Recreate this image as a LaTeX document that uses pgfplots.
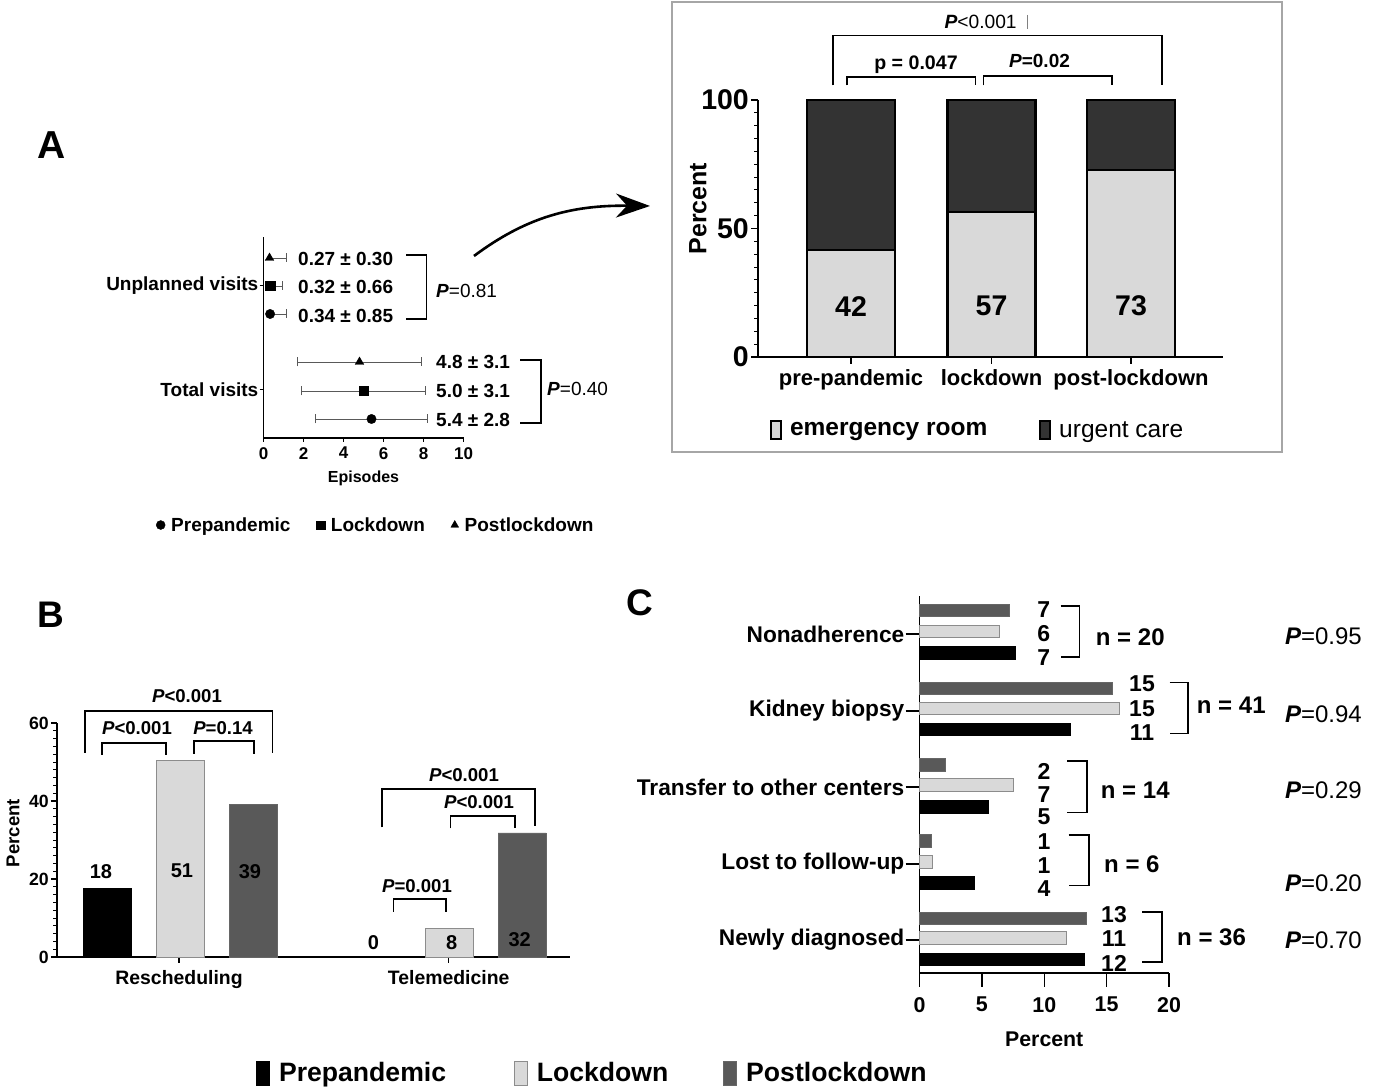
\documentclass[border=0pt]{standalone}
\usepackage{fontspec}
\setmainfont{Liberation Sans}
\usepackage{pgfplots}
\pgfplotsset{compat=1.18}
\usetikzlibrary{arrows.meta}
\definecolor{lgray}{HTML}{D9D9D9}
\definecolor{dgray}{HTML}{595959}
\definecolor{vdgray}{HTML}{333333}
\newcommand\fsz[1]{\fontsize{#1}{#1}\selectfont}
\pgfplotsset{every axis/.append style={/pgf/number format/assume math mode=true},
  ebar/.style={error bars/.cd, x dir=#1, x explicit,
    error bar style={line width=0.9pt, black!65},
    error mark=|,
    error mark options={line width=0.9pt, black!65, mark size=4.5}}}
\tikzset{flip/.style={y=-1pt, x=1pt, yshift=1091pt}}
\begin{document}
\begin{tikzpicture}[x=1pt,y=1pt]
\path[use as bounding box] (0,0) rectangle (1374,1091);

%================ Panel A forest ================
\begin{axis}[
  at={(263.5pt,653pt)}, anchor=south west,
  scale only axis, width=200pt, height=201pt,
  xmin=0, xmax=10, ymin=-438, ymax=-237,
  axis lines*=left,
  axis line style={line width=1.2pt},
  xtick={0,2,...,10},
  ytick={-286,-390}, yticklabels={Unplanned visits, Total visits},
  tick align=outside, major tick length=4pt,
  tick style={line width=1pt, black},
  xticklabel style={font=\bfseries\fsz{17}, inner sep=2pt, yshift=-3pt},
  yticklabel style={font=\bfseries\fsz{19}, inner sep=1pt},
  xlabel={Episodes}, xlabel style={font=\bfseries\fsz{16}, inner sep=0pt, yshift=-9pt},
  clip=false,
  legend columns=3,
  legend cell align=left,
  legend image code/.code={\draw[#1] plot coordinates {(5pt,0pt)};},
  legend style={at={(-0.5375,-0.433)}, anchor=west, draw=none, fill=none,
    font=\bfseries\fsz{19}, inner sep=0pt,
    /tikz/every even column/.append style={column sep=25pt},
    /tikz/every odd column/.append style={column sep=5pt},
    nodes={inner sep=1pt}},
]
\addlegendimage{only marks, mark=*, black, mark size=4.5}
\addlegendentry{Prepandemic}
\addlegendimage{only marks, mark=square*, black, mark size=4.2}
\addlegendentry{Lockdown}
\addlegendimage{only marks, mark=triangle*, black, mark size=4.5}
\addlegendentry{Postlockdown}
\addplot[only marks, mark=triangle*, black, mark size=5, ebar=plus]
  coordinates {(0.30,-258) +- (0.85,0)};
\addplot[only marks, mark=square*, black, mark size=4.7, ebar=plus]
  coordinates {(0.33,-286) +- (0.62,0)};
\addplot[only marks, mark=*, black, mark size=4.7, ebar=plus]
  coordinates {(0.33,-314) +- (0.82,0)};
\addplot[only marks, mark=triangle*, black, mark size=5, ebar=both]
  coordinates {(4.8,-362) +- (3.1,0)};
\addplot[only marks, mark=square*, black, mark size=4.7, ebar=both]
  coordinates {(5.0,-391) +- (3.1,0)};
\addplot[only marks, mark=*, black, mark size=4.7, ebar=both]
  coordinates {(5.4,-419) +- (2.8,0)};
\end{axis}

%================ Stacked panel ================
\begin{axis}[
  at={(758pt,734pt)}, anchor=south west,
  scale only axis, width=465pt, height=257pt,
  xmin=758, xmax=1223, ymin=0, ymax=100,
  axis lines*=left,
  axis line style={line width=2pt},
  ytick={0,50,100}, minor y tick num=9,
  xtick={851,991.5,1131}, xticklabels={pre-pandemic, lockdown, post-lockdown},
  tick align=outside, major tick length=7pt, minor tick length=4pt,
  tick style={line width=1.5pt, black},
  minor tick style={line width=1pt},
  yticklabel style={font=\bfseries\fsz{28.5}, inner sep=2pt},
  xticklabel style={font=\bfseries\fsz{22}, inner sep=2pt, yshift=-3pt},
  ylabel={Percent}, ylabel style={font=\bfseries\fsz{25}, at={(axis description cs:-0.129,0.577)}, anchor=center},
  clip=false,
  legend columns=2,
  legend cell align=left,
  legend style={at={(0.0258,-0.284)}, anchor=west, draw=none, fill=none,
    font=\fsz{24.5}, inner sep=0pt,
    /tikz/every odd column/.append style={column sep=6pt},
    /tikz/every even column/.append style={column sep=50pt},
    nodes={inner sep=2pt}},
]
\addlegendimage{legend image code/.code={\draw[fill=lgray, draw=black, line width=1.8pt] (0pt,-9pt) rectangle (10pt,9pt);}}
\addlegendentry{\bfseries emergency room}
\addlegendimage{legend image code/.code={\draw[fill=vdgray, draw=black, line width=1.8pt] (0pt,-9pt) rectangle (10pt,9pt);}}
\addlegendentry{urgent care}
\addplot[ybar stacked, bar width=88, fill=lgray, draw=black, line width=2.2pt] coordinates {(851,41.6) (991.5,56.5) (1131,72.9)};
\addplot[ybar stacked, bar width=88, fill=vdgray, draw=black, line width=2.2pt] coordinates {(851,58.4) (991.5,43.5) (1131,27.1)};
\node[font=\bfseries\fsz{28.5}] at (axis cs:851,19.8) {42};
\node[font=\bfseries\fsz{28.5}] at (axis cs:991.5,19.8) {57};
\node[font=\bfseries\fsz{28.5}] at (axis cs:1131,19.8) {73};
\end{axis}

%================ Panel B ================
\begin{axis}[
  at={(57pt,134pt)}, anchor=south west,
  scale only axis, width=513pt, height=234pt,
  xmin=57, xmax=570, ymin=0, ymax=60,
  axis lines*=left,
  axis line style={line width=1.6pt},
  ytick={0,20,40,60}, minor y tick num=9,
  xtick={179,448.7}, xticklabels={Rescheduling, Telemedicine},
  tick align=outside, major tick length=6pt, minor tick length=3.5pt,
  tick style={line width=1.2pt, black},
  minor tick style={line width=0.8pt},
  yticklabel style={font=\bfseries\fsz{17.7}, inner sep=2pt},
  xticklabel style={font=\bfseries\fsz{19.4}, inner sep=2pt, yshift=-5pt},
  ylabel={Percent}, ylabel style={font=\bfseries\fsz{18.6}, at={(axis description cs:-0.0858,0.53)}, anchor=center},
  clip=false,
  legend columns=3,
  legend cell align=left,
  legend style={at={(0.388,-0.496)}, anchor=west, draw=none, fill=none,
    font=\bfseries\fsz{26.6}, inner sep=0pt,
    /tikz/every odd column/.append style={column sep=7pt},
    /tikz/column 2/.style={column sep=66pt},
    /tikz/column 4/.style={column sep=53pt},
    nodes={inner sep=2pt}},
]
\addlegendimage{legend image code/.code={\draw[fill=black, draw=black, line width=0.8pt] (0pt,-12pt) rectangle (13pt,12pt);}}
\addlegendentry{Prepandemic}
\addlegendimage{legend image code/.code={\draw[fill=lgray, draw=black!45, line width=0.8pt] (0pt,-12pt) rectangle (13pt,12pt);}}
\addlegendentry{Lockdown}
\addlegendimage{legend image code/.code={\draw[fill=dgray, draw=black!60, line width=0.8pt] (0pt,-12pt) rectangle (13pt,12pt);}}
\addlegendentry{Postlockdown}
\addplot[ybar, bar shift=0pt, bar width=48, fill=black, draw=black, line width=0.8pt] coordinates {(107,17.6)};
\addplot[ybar, bar shift=0pt, bar width=48, fill=lgray, draw=black!45, line width=0.8pt] coordinates {(180,50.4) (449,7.4)};
\addplot[ybar, bar shift=0pt, bar width=48, fill=dgray, draw=black!60, line width=0.8pt] coordinates {(253,39.1) (522,31.8)};
\begin{scope}[every node/.style={font=\bfseries\fsz{20}, inner sep=0pt}]
\node at (axis cs:101,22) {18};
\node at (axis cs:182,22) {51};
\node at (axis cs:250,22) {39};
\node at (axis cs:373.5,3.6) {0};
\node at (axis cs:451.6,3.6) {8};
\node at (axis cs:519.7,4.5) {32};
\end{scope}
\end{axis}

%================ Panel C ================
\begin{axis}[
  at={(919.5pt,118pt)}, anchor=south west,
  scale only axis, width=249.5pt, height=377pt,
  xmin=0, xmax=20, ymin=-973, ymax=-596,
  axis lines*=left,
  axis line style={line width=1.6pt},
  xtick={0,5,...,20},
  ytick={-634,-711,-787,-864,-940},
  yticklabels={Nonadherence, Kidney biopsy, Transfer to other centers, Lost to follow-up, Newly diagnosed},
  tick align=outside, major tick length=14pt,
  tick style={line width=1.4pt, black},
  xticklabel style={font=\bfseries\fsz{21.4}, inner sep=2pt, yshift=-8pt},
  yticklabel style={font=\bfseries\fsz{22.7}, inner sep=1pt},
  xlabel={Percent}, xlabel style={font=\bfseries\fsz{21.3}, inner sep=0pt, yshift=-17pt},
  clip=false,
]
\addplot[xbar, bar shift=0pt, bar width=12.5, fill=dgray, draw=black!60, line width=0.8pt]
  coordinates {(7.2,-610.5) (15.5,-688.4) (2.1,-765) (0.95,-841) (13.4,-918.6)};
\addplot[xbar, bar shift=0pt, bar width=12.5, fill=lgray, draw=black!45, line width=0.8pt]
  coordinates {(6.4,-631.6) (16.0,-708.5) (7.5,-785) (1.07,-862) (11.8,-937.7)};
\addplot[xbar, bar shift=0pt, bar width=12.5, fill=black, draw=black, line width=0.8pt]
  coordinates {(7.7,-652.8) (12.1,-729.6) (5.5,-807) (4.4,-883) (13.2,-959.5)};
\end{axis}

%================ Annotations (pixel coordinates, y downward) ================
\begin{scope}[flip]
\node[font=\bfseries\fsz{39}] at (52,145) {A};
\node[font=\bfseries\fsz{37}] at (51,615) {B};
\node[font=\bfseries\fsz{37}] at (640,603) {C};
\begin{scope}[every node/.style={font=\bfseries\fsz{19}, inner sep=0pt, anchor=west}]
\node at (298,259) {0.27 ± 0.30};
\node at (298,287) {0.32 ± 0.66};
\node at (298,316) {0.34 ± 0.85};
\node at (436,362) {4.8 ± 3.1};
\node at (436,391) {5.0 ± 3.1};
\node at (436,420) {5.4 ± 2.8};
\end{scope}
\draw[line width=1.2pt] (406,255)--(426.5,255)--(426.5,319)--(406,319);
\draw[line width=1.2pt] (520,360)--(541,360)--(541,423)--(520,423);
\node[anchor=west, font=\fsz{19}, inner sep=0pt] at (436,291) {\textbf{\textit{P}}=0.81};
\node[anchor=west, font=\fsz{19}, inner sep=0pt] at (547,389) {\textbf{\textit{P}}=0.40};
\draw[line width=2.6pt, -{Stealth[length=34pt, width=24pt]}] (474,256) .. controls (525,218) and (570,205) .. (650,206);
\draw[black!35, line width=1.5pt] (672,2) rectangle (1282,452);
\draw[line width=1.5pt] (833,85.4)--(833,35.4)--(1162,35.4)--(1162,85.4);
\draw[line width=1.5pt] (847,85.4)--(847,76.8)--(975.5,76.8)--(975.5,85.4);
\draw[line width=1.5pt] (983.4,85.4)--(983.4,76)--(1112,76)--(1112,85.4);
\draw[black!50, line width=0.8pt] (1027.7,15)--(1027.7,29);
\node[font=\fsz{19.2}, inner sep=0pt] at (980.6,22) {\textbf{\textit{P}}<0.001};
\node[font=\bfseries\fsz{19.6}, inner sep=0pt] at (916,64.6) {p = 0.047};
\node[font=\bfseries\fsz{19}, inner sep=0pt] at (1039.5,61) {\textit{P}=0.02};
\begin{scope}[line width=1.8pt]
\draw (85,752.8)--(85,711)--(272.4,711)--(272.4,752.8);
\draw (102,755)--(102,742.8)--(166,742.8)--(166,755);
\draw (194,754)--(194,741)--(253.8,741)--(253.8,754);
\draw (381.7,827.5)--(381.7,789.3)--(534.8,789.3)--(534.8,826.5);
\draw (450.5,828.5)--(450.5,816)--(515,816)--(515,828.5);
\draw (393.5,911.6)--(393.5,899)--(446,899)--(446,911.6);
\end{scope}
\begin{scope}[every node/.style={font=\bfseries\fsz{18.6}, inner sep=0pt}]
\node at (187,696.3) {\textit{P}<0.001};
\node at (137,728) {\textit{P}<0.001};
\node at (223,728) {\textit{P}=0.14};
\node at (464,775) {\textit{P}<0.001};
\node at (479,802.6) {\textit{P}<0.001};
\node at (417,885.7) {\textit{P}=0.001};
\end{scope}
\begin{scope}[every node/.style={font=\bfseries\fsz{23}, inner sep=0pt}]
\node at (1043.8,610) {7}; \node at (1043.8,634) {6}; \node at (1043.8,658) {7};
\node at (1142,684) {15}; \node at (1142,708.5) {15}; \node at (1142,733) {11};
\node at (1044,771.6) {2}; \node at (1044,795) {7}; \node at (1044,817) {5};
\node at (1044,842) {1}; \node at (1044,865.5) {1}; \node at (1044,889) {4};
\node at (1114,915) {13}; \node at (1114,939) {11}; \node at (1114,963.5) {12};
\end{scope}
\begin{scope}[line width=1.6pt]
\draw (1060.6,606)--(1079.4,606)--(1079.4,656.8)--(1060.6,656.8);
\draw (1169.5,682.7)--(1188,682.7)--(1188,733.7)--(1169.5,733.7);
\draw (1067,760.8)--(1086.8,760.8)--(1086.8,812.5)--(1067,812.5);
\draw (1068.5,835)--(1089,835)--(1089,885.6)--(1068.5,885.6);
\draw (1142,911.9)--(1162,911.9)--(1162,962)--(1142,962);
\end{scope}
\begin{scope}[every node/.style={font=\bfseries\fsz{24}, inner sep=0pt, anchor=west}]
\node at (1095.7,637.4) {n = 20};
\node at (1196.7,705) {n = 41};
\node at (1100.7,790) {n = 14};
\node at (1104,864) {n = 6};
\node at (1177,937.7) {n = 36};
\end{scope}
\begin{scope}[every node/.style={font=\fsz{24}, inner sep=0pt, anchor=west}]
\node at (1284.8,636.3) {\textbf{\textit{P}}=0.95};
\node at (1284.8,714) {\textbf{\textit{P}}=0.94};
\node at (1284.8,790) {\textbf{\textit{P}}=0.29};
\node at (1284.8,883) {\textbf{\textit{P}}=0.20};
\node at (1284.8,940) {\textbf{\textit{P}}=0.70};
\end{scope}
\end{scope}
\end{tikzpicture}
\end{document}
